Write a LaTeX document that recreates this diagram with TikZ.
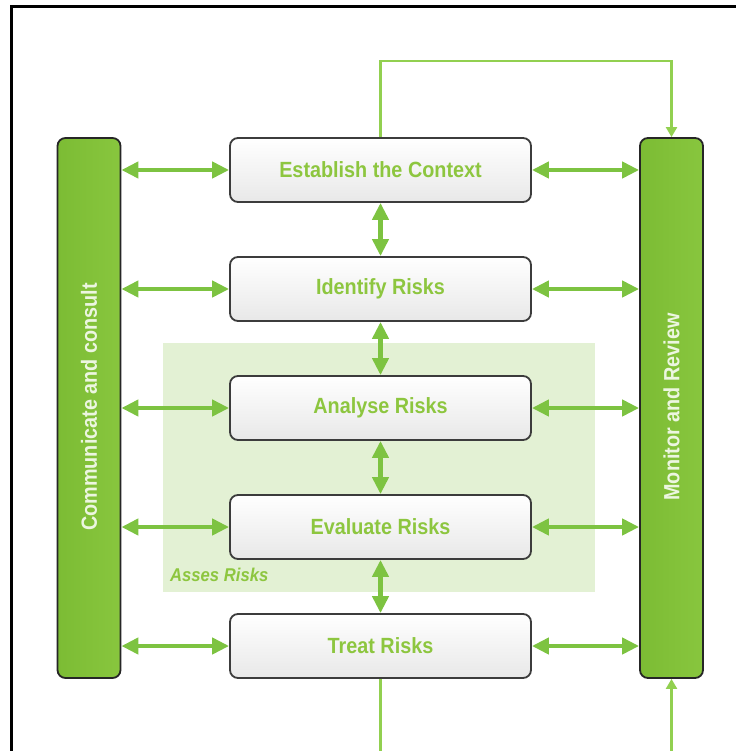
\documentclass[tikz,border=0pt]{standalone}
\usepackage{fontspec}
\newfontfamily\narrow[FakeStretch=0.9]{Liberation Sans}
\usetikzlibrary{arrows.meta}
\definecolor{txtgreen}{RGB}{141,198,63}
\definecolor{arrowc}{RGB}{125,195,65}
\definecolor{barfill}{RGB}{136,198,62}
\definecolor{barleft}{RGB}{124,188,52}
\definecolor{regionc}{RGB}{227,241,212}
\definecolor{fbc}{RGB}{146,208,80}
\definecolor{bartxt}{RGB}{236,246,224}
\definecolor{boxline}{RGB}{60,60,60}
\tikzset{
  stepbox/.style={draw=boxline, line width=1.8pt, rounded corners=8pt,
    top color=white, bottom color=black!9, minimum width=301pt, minimum height=64pt,
    inner sep=0pt, font=\narrow\bfseries\fontsize{22}{26}\selectfont, text=txtgreen},
  sidebar/.style={draw=black!85, line width=1.8pt, rounded corners=8pt,
    left color=barleft, right color=barfill, minimum width=63pt, minimum height=540pt, inner sep=0pt},
  bartext/.style={rotate=90, font=\narrow\bfseries\fontsize{22}{26}\selectfont, text=bartxt, inner sep=0pt},
  dbl/.style={line width=4.5pt, draw=arrowc,
    {Triangle[length=17pt,width=16pt]}-{Triangle[length=17pt,width=16pt]}},
  fb/.style={line width=2.2pt, draw=fbc},
  region/.style={fill=regionc, draw=none, minimum width=432pt, minimum height=249pt, inner sep=0pt},
}
\begin{document}
\begin{tikzpicture}[x=1pt,y=-1pt]
\useasboundingbox (0,0) rectangle (736,751);
% frame
\coordinate (fa) at (11,751);
\coordinate (fb) at (11,7);
\coordinate (fc) at (736,7);
\draw[line width=3pt] (fa) -- (fb) -- (fc);
% assess region
\node[region] (assess) at (379,467.5) {};
\node[font=\narrow\bfseries\itshape\fontsize{18.5}{22}\selectfont, text=txtgreen, anchor=west, inner sep=0pt] (asslbl) at (170,575) {Asses Risks};
% side bars
\node[sidebar] (comm) at (89,408) {};
\node[bartext] (commt) at (89,407) {Communicate and consult};
\node[sidebar] (mon) at (671.5,408) {};
\node[bartext] (mont) at (671.5,407) {Monitor and Review};
% boxes
\node[stepbox] (est) at (380.5,170) {Establish the Context};
\node[stepbox] (ide) at (380.5,289) {Identify Risks};
\node[stepbox] (ana) at (380.5,408) {Analyse Risks};
\node[stepbox] (eva) at (380.5,527) {Evaluate Risks};
\node[stepbox] (tre) at (380.5,646) {Treat Risks};
% horizontal arrows
\foreach \b in {est,ide,ana,eva,tre}{
  \draw[dbl] (\b.west -| comm.east) -- (\b.west);
  \draw[dbl] (\b.east) -- (\b.east -| mon.west);
}
% vertical arrows
\draw[dbl] (est.south) -- (ide.north);
\draw[dbl] (ide.south) -- (ana.north);
\draw[dbl] (ana.south) -- (eva.north);
\draw[dbl] (eva.south) -- (tre.north);
% feedback loops
\draw[fb, -{Triangle[length=10pt,width=11pt]}] (est.north) -- ++(0,-76) -| (mon.north);
\coordinate (b1) at (380.5,751);
\coordinate (b2) at (671.5,751);
\draw[fb] (tre.south) -- (b1);
\draw[fb, -{Triangle[length=10pt,width=11pt]}] (b2) -- (mon.south);
\end{tikzpicture}
\end{document}
